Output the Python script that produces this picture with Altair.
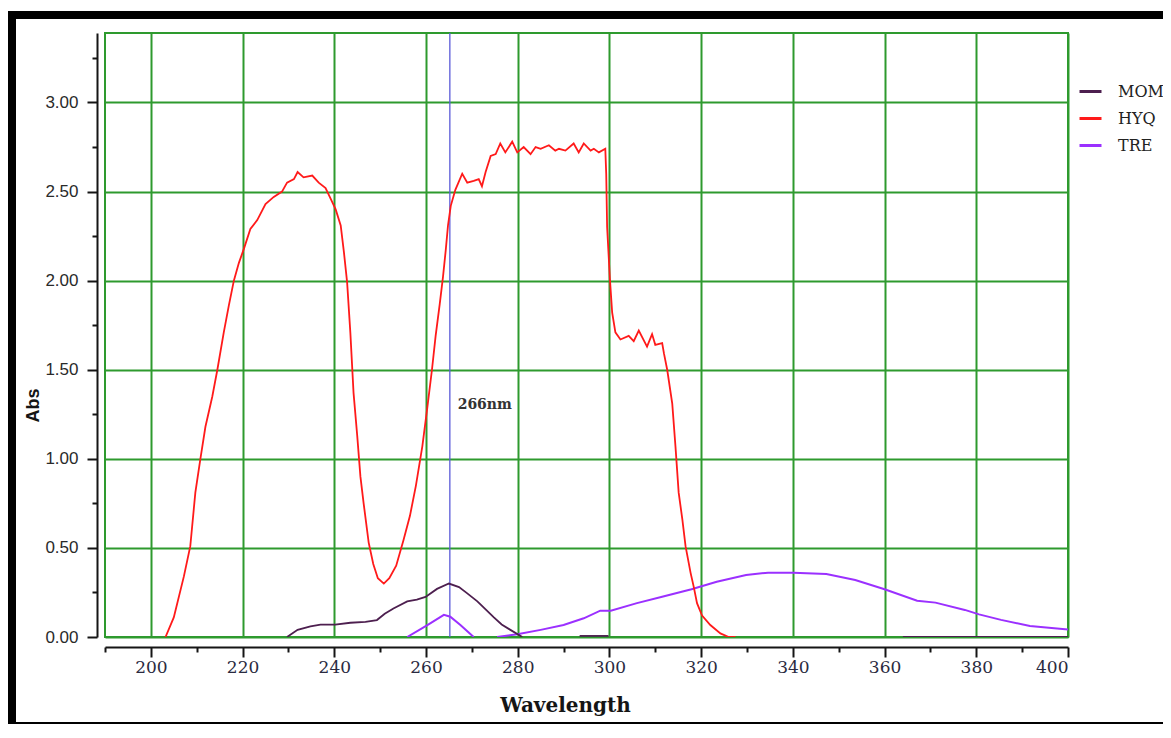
import altair as alt
import pandas as pd

# ---------------- data ----------------
hyq_x = [203.2, 205.0, 207.2, 208.6, 209.7, 210.8, 211.9, 213.4, 214.5, 215.9,
         217.0, 218.1, 219.2, 220.3, 221.7, 223.2, 225.0, 226.8, 228.6, 229.7,
         231.2, 232.0, 233.3, 235.2, 236.6, 238.1, 239.2, 240.3, 241.4, 242.1,
         242.8, 243.5, 244.2, 245.0, 245.7, 246.4, 247.5, 248.5, 249.5, 250.8,
         252.0, 253.5, 255.1, 256.5, 257.8, 259.2, 260.3, 261.3, 262.1, 263.0,
         263.7, 264.3, 264.8, 265.4, 266.4, 267.9, 269.0, 270.4, 271.5, 272.2,
         273.0, 274.1, 275.2, 276.2, 277.3, 278.8, 279.9, 281.3, 282.8, 283.9,
         285.0, 286.8, 288.2, 289.0, 290.4, 292.2, 293.3, 294.4, 295.9, 296.6,
         297.7, 299.1, 299.3, 299.5, 300.1, 300.6, 301.3, 302.4, 304.2, 305.3,
         306.4, 308.2, 309.3, 310.0, 311.5, 311.9, 312.6, 313.7, 314.4, 315.1,
         315.9, 316.6, 317.7, 318.4, 319.1, 320.2, 322.0, 324.2, 326.0, 327.5]
hyq_y = [0.00, 0.11, 0.34, 0.51, 0.81, 1.00, 1.18, 1.35, 1.50, 1.71,
         1.86, 2.00, 2.10, 2.18, 2.29, 2.34, 2.43, 2.47, 2.50, 2.55,
         2.57, 2.61, 2.58, 2.59, 2.55, 2.52, 2.46, 2.40, 2.31, 2.16,
         1.99, 1.71, 1.37, 1.13, 0.90, 0.75, 0.53, 0.41, 0.33, 0.30,
         0.33, 0.40, 0.545, 0.68, 0.85, 1.07, 1.29, 1.50, 1.69, 1.87,
         2.02, 2.17, 2.31, 2.42, 2.51, 2.60, 2.55, 2.56, 2.57, 2.53,
         2.61, 2.70, 2.71, 2.77, 2.72, 2.78, 2.72, 2.75, 2.71, 2.75,
         2.74, 2.76, 2.73, 2.74, 2.73, 2.77, 2.72, 2.77, 2.73, 2.74,
         2.72, 2.74, 2.60, 2.30, 2.01, 1.82, 1.71, 1.67, 1.69, 1.66,
         1.72, 1.63, 1.70, 1.64, 1.65, 1.59, 1.50, 1.31, 1.07, 0.81,
         0.66, 0.51, 0.36, 0.28, 0.19, 0.12, 0.067, 0.02, 0.00, 0.00]

mom_a_x = [229.7, 232.0, 234.8, 237.0, 240.2, 243.5, 246.8, 249.3, 251.0, 252.9,
           255.9, 258.0, 259.9, 262.4, 265.0, 267.2, 269.0, 271.2, 273.0, 274.8,
           276.5, 278.4, 281.0]
mom_a_y = [0.00, 0.04, 0.06, 0.07, 0.07, 0.08, 0.085, 0.095, 0.13, 0.16,
           0.20, 0.21, 0.225, 0.27, 0.30, 0.28, 0.245, 0.20, 0.155, 0.11,
           0.07, 0.04, 0.00]
mom_b_x = [293.5, 299.8]
mom_b_y = [0.006, 0.006]
mom_c_x = [364.0, 400.0]
mom_c_y = [0.0, 0.0]

tre_a_x = [255.9, 260.3, 263.9, 265.3, 267.5, 270.4]
tre_a_y = [0.00, 0.067, 0.124, 0.114, 0.067, 0.00]
tre_b_x = [275.5, 279.9, 285.0, 290.0, 294.4, 298.0, 300.3, 306.0, 311.5, 317.9,
           323.4, 329.8, 334.6, 340.1, 347.3, 353.6, 360.0, 367.1, 371.1, 377.5,
           380.6, 385.4, 391.7, 400.0]
tre_b_y = [0.00, 0.015, 0.04, 0.067, 0.105, 0.148, 0.148, 0.19, 0.226, 0.268,
           0.31, 0.348, 0.361, 0.361, 0.354, 0.32, 0.268, 0.204, 0.193, 0.152,
           0.127, 0.096, 0.062, 0.042]

series_names = ["MOM", "HYQ", "TRE"]
series_colors = ["#4d1f4f", "#ff1a1a", "#9b30ff"]

marker_x = [265.2]
label_x = [266.9]
label_y = [1.30]
label_text = ["266nm"]

x_ticks = list(range(190, 401, 10))
y_ticks = [i * 0.25 for i in range(14)]

# ---------------- tables ----------------
rows = []
def add(name, seg, xs, ys):
    for a, b in zip(xs, ys):
        rows.append({"series": name, "seg": seg, "wl": a, "abs": b})

add("MOM", "MOM-a", mom_a_x, mom_a_y)
add("MOM", "MOM-b", mom_b_x, mom_b_y)
add("MOM", "MOM-c", mom_c_x, mom_c_y)
add("TRE", "TRE-a", tre_a_x, tre_a_y)
add("TRE", "TRE-b", tre_b_x, tre_b_y)
add("HYQ", "HYQ-a", hyq_x, hyq_y)
df = pd.DataFrame(rows)

GREEN = "#2e9a2e"
INK = "#151515"

x_scale = alt.Scale(domain=[190, 400], nice=False, zero=False)
y_scale = alt.Scale(domain=[0, 3.39], nice=False, zero=False)

x_axis = alt.Axis(
    values=x_ticks, format="d",
    labelExpr="datum.value % 20 === 0 ? datum.label : ''",
    tickSize={"condition": {"test": "datum.value % 20 === 0", "value": 10}, "value": 5},
    grid=True, gridColor=GREEN, gridWidth=2,
    gridOpacity={"condition": {"test": "datum.value % 20 === 0", "value": 1}, "value": 0},
    domainColor=INK, domainWidth=2, tickColor=INK, tickWidth=2, offset=10,
    labelFont="DejaVu Serif", labelFontSize=17, labelColor="#2a2a40", labelPadding=2,
    title="Wavelength", titleFont="DejaVu Serif", titleFontSize=20, titleFontWeight="bold",
    titleColor=INK, titleX=460, titleY=64, titleBaseline="alphabetic",
)
y_axis = alt.Axis(
    values=y_ticks, format=".2f",
    labelExpr="datum.value % 0.5 === 0 ? datum.label : ''",
    tickSize={"condition": {"test": "datum.value % 0.5 === 0", "value": 10}, "value": 5},
    grid=True, gridColor=GREEN, gridWidth=2,
    gridOpacity={"condition": {"test": "datum.value % 0.5 === 0", "value": 1}, "value": 0},
    domainColor=INK, domainWidth=2, tickColor=INK, tickWidth=2, offset=8,
    labelFont="Liberation Sans", labelFontSize=17, labelColor="#2a2a2a", labelPadding=9,
    title="Abs", titleFont="Liberation Sans", titleFontSize=18, titleFontWeight="bold",
    titleColor=INK, titleX=-59, titleY=372, titleBaseline="alphabetic", titleAngle=270,
)

color_enc = alt.Color(
    "series:N",
    scale=alt.Scale(domain=series_names, range=series_colors),
    legend=alt.Legend(
        title=None, orient="none", legendX=973, legendY=46,
        symbolType="stroke", symbolSize=484, symbolStrokeWidth=3,
        labelFont="DejaVu Serif", labelFontSize=16, labelColor="#222",
        labelOffset=15, rowPadding=6,
    ),
)

base = alt.Chart(df)

lines_main = base.transform_filter("datum.series !== 'TRE'").mark_line(
    strokeWidth=1.8, clip=True
).encode(
    x=alt.X("wl:Q", scale=x_scale, axis=x_axis),
    y=alt.Y("abs:Q", scale=y_scale, axis=y_axis),
    color=color_enc,
    detail="seg:N",
)
lines_tre = base.transform_filter("datum.series === 'TRE'").mark_line(
    strokeWidth=2.0, clip=True
).encode(
    x=alt.X("wl:Q", scale=x_scale),
    y=alt.Y("abs:Q", scale=y_scale),
    color=color_enc,
    detail="seg:N",
)

marker = alt.Chart(pd.DataFrame({"wl": marker_x})).mark_rule(
    color="#5a5ad8", strokeWidth=1.3
).encode(x=alt.X("wl:Q", scale=x_scale))

label = alt.Chart(pd.DataFrame({"wl": label_x, "abs": label_y, "t": label_text})).mark_text(
    align="left", baseline="middle", font="DejaVu Serif", fontSize=14,
    fontWeight="bold", color="#333"
).encode(x=alt.X("wl:Q", scale=x_scale), y=alt.Y("abs:Q", scale=y_scale), text="t:N")

frame_df = pd.DataFrame({"k": [0]})
frame_left = alt.Chart(frame_df).mark_rect(color="black").encode(
    x=alt.value(-97), x2=alt.value(-89), y=alt.value(-22), y2=alt.value(691))
frame_top = alt.Chart(frame_df).mark_rect(color="black").encode(
    x=alt.value(-97), x2=alt.value(1060), y=alt.value(-22), y2=alt.value(-14))
frame_bottom = alt.Chart(frame_df).mark_rect(color="black").encode(
    x=alt.value(-97), x2=alt.value(1060), y=alt.value(689), y2=alt.value(691))

chart = alt.layer(marker, lines_tre, lines_main, label,
                  frame_left, frame_top, frame_bottom).properties(
    width=963, height=604,
    autosize=alt.AutoSizeParams(type="none"),
    padding={"left": 97, "top": 25, "right": 95, "bottom": 87},
    background="white",
).configure_view(stroke=GREEN, strokeWidth=2)

chart.save("out.html", embed_options={"renderer": "svg", "actions": False})
